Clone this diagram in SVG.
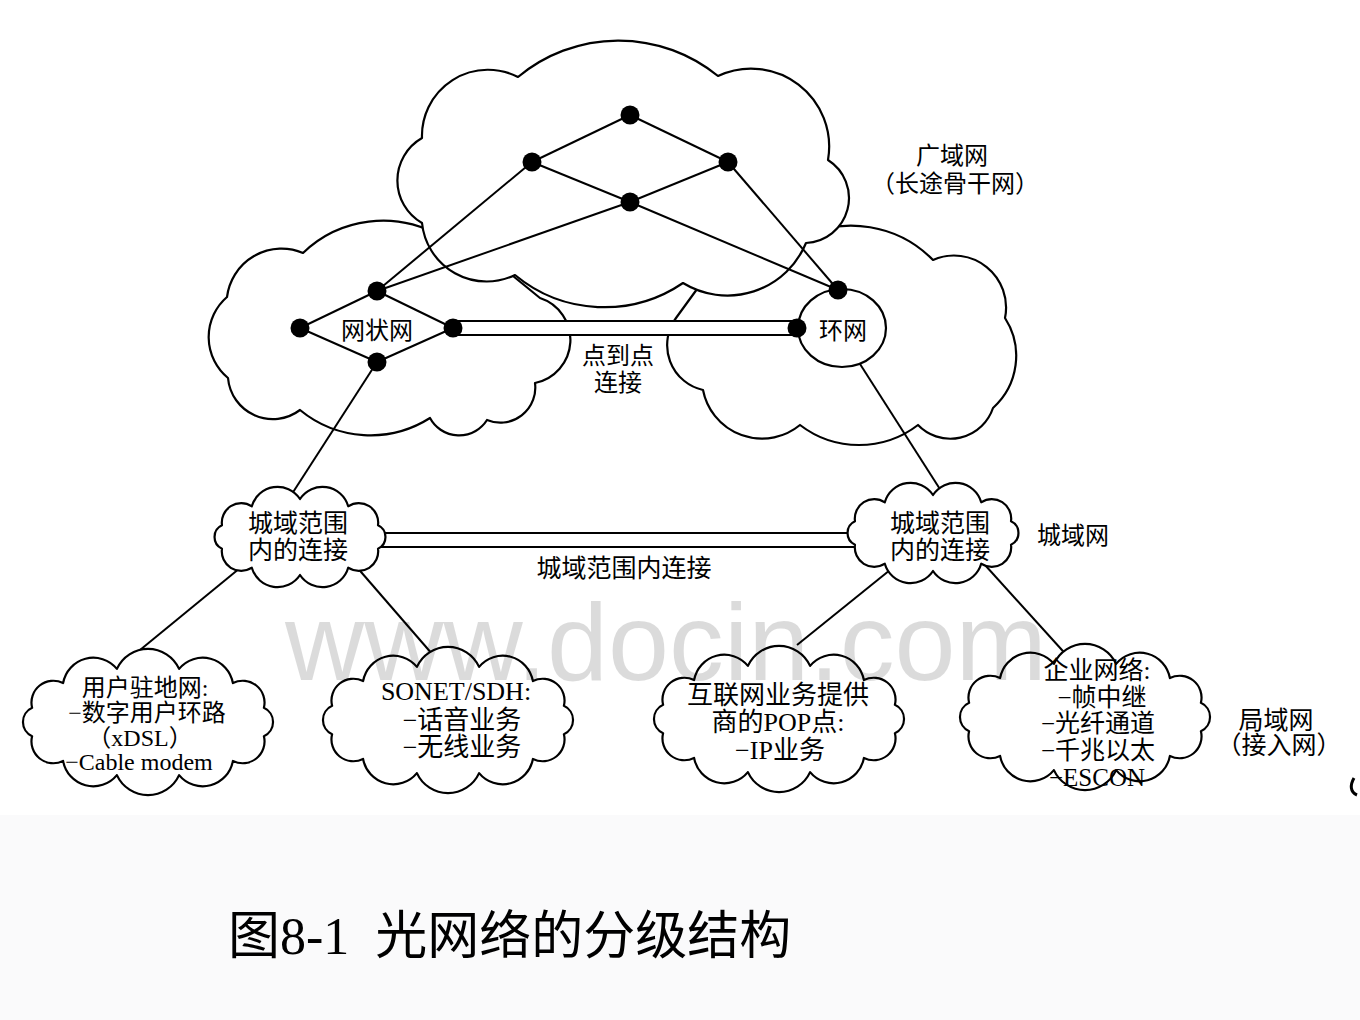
<svg xmlns="http://www.w3.org/2000/svg" width="1360" height="1020" viewBox="0 0 1360 1020">
<defs>
<style>
.cloud{fill:#fff;stroke:#000;stroke-width:2.2;stroke-linejoin:round}
.ln{stroke:#000;stroke-width:2;fill:none}
.ring{fill:none;stroke:#000;stroke-width:2.2}
.dblfill{fill:#fff;stroke:none}
.dot{fill:#000}
text{font-family:"Liberation Serif","Noto Sans CJK SC",serif;fill:#000}
.s24{font-size:24px}
.s25{font-size:25px}
.s26{font-size:26px}
.mid{text-anchor:middle}
.cap{font-size:52px}
.wm{font-family:"Liberation Sans",Arial,sans-serif;font-size:110px;fill:#000;fill-opacity:0.14}
</style>
<path id="cloudS" d="M115.9,14.2 A21.8,21.8 0 0 1 84.9,38.9 A30.6,30.6 0 0 1 31.1,53.1 A34.2,34.2 0 0 1 -31.1,53.1 A30.6,30.6 0 0 1 -84.9,38.9 A21.8,21.8 0 0 1 -115.9,14.2 A15.6,15.6 0 0 1 -115.9,-14.2 A21.8,21.8 0 0 1 -84.9,-38.9 A30.6,30.6 0 0 1 -31.1,-53.1 A34.2,34.2 0 0 1 31.1,-53.1 A30.6,30.6 0 0 1 84.9,-38.9 A21.8,21.8 0 0 1 115.9,-14.2 A15.6,15.6 0 0 1 115.9,14.2 Z"/>
<path id="cloudM" d="M78,11.7 A19.4,19.4 0 0 1 48.2,30.7 A26.8,26.8 0 0 1 0,38 A26.8,26.8 0 0 1 -48.2,30.7 A19.4,19.4 0 0 1 -78,11.7 A12.9,12.9 0 0 1 -78,-11.7 A19.4,19.4 0 0 1 -48.2,-30.7 A26.8,26.8 0 0 1 0,-38 A26.8,26.8 0 0 1 48.2,-30.7 A19.4,19.4 0 0 1 78,-11.7 A12.9,12.9 0 0 1 78,11.7 Z"/>
</defs>

<rect x="0" y="0" width="1360" height="1020" fill="#fff"/>
<rect x="0" y="815" width="1360" height="205" fill="#fafafb"/>

<g id="mesh-network">
<path class="cloud" d="M227,297 A55,55 0 0 1 303,253 A115,115 0 0 1 440,236 L513,276 L540,298 A44,44 0 0 1 535,383 A35,35 0 0 1 487,420 A33,33 0 0 1 430,418 A111,111 0 0 1 300,410 A45,45 0 0 1 228,378 A53,53 0 0 1 227,297 Z"/>
<text class="s24 mid" x="377" y="339">网状网</text>
</g>

<g id="ring-network">
<path class="cloud" d="M800,238 A114,114 0 0 1 933,260 A52,52 0 0 1 1005,318 A70,70 0 0 1 993,408 A45,45 0 0 1 918,425 A97,97 0 0 1 800,425 A60,60 0 0 1 703,390 A46,46 0 0 1 676,318 L700,285 Z"/>
<ellipse class="ring" cx="842" cy="328" rx="44" ry="39"/>
<text class="s24 mid" x="843" y="339">环网</text>
</g>

<g id="wan-backbone">
<path class="cloud" d="M422,223 A49,49 0 0 1 422,138 A66,66 0 0 1 518,77 A157,157 0 0 1 718,76 A78,78 0 0 1 828,160 A45,45 0 0 1 806,243 A85,85 0 0 1 683,283 A140,140 0 0 1 515,275 A65,65 0 0 1 422,223 Z"/>
</g>

<g id="connectors">
<line class="ln" x1="630" y1="115" x2="532" y2="162"/>
<line class="ln" x1="630" y1="115" x2="728" y2="162"/>
<line class="ln" x1="532" y1="162" x2="630" y2="202"/>
<line class="ln" x1="728" y1="162" x2="630" y2="202"/>
<line class="ln" x1="532" y1="162" x2="377" y2="291"/>
<line class="ln" x1="630" y1="202" x2="377" y2="291"/>
<line class="ln" x1="728" y1="162" x2="838" y2="290"/>
<line class="ln" x1="630" y1="202" x2="838" y2="290"/>
<line class="ln" x1="377" y1="291" x2="300" y2="328"/>
<line class="ln" x1="300" y1="328" x2="377" y2="362"/>
<line class="ln" x1="377" y1="362" x2="453" y2="328"/>
<line class="ln" x1="453" y1="328" x2="377" y2="291"/>
<line class="ln" x1="377" y1="362" x2="288" y2="500"/>
<line class="ln" x1="860" y1="364" x2="945" y2="497"/>
<g id="p2p-link">
<rect class="dblfill" x="453" y="321" width="344" height="14"/>
<line class="ln" x1="453" y1="321" x2="797" y2="321"/>
<line class="ln" x1="453" y1="335" x2="797" y2="335"/>
<text class="s24 mid" x="618" y="364">点到点</text>
<text class="s24 mid" x="618" y="391">连接</text>
</g>
<g id="metro-link">
<rect class="dblfill" x="380" y="533" width="475" height="14"/>
<line class="ln" x1="380" y1="533" x2="855" y2="533"/>
<line class="ln" x1="380" y1="547" x2="855" y2="547"/>
<text class="s25 mid" x="624" y="577">城域范围内连接</text>
</g>
<line class="ln" x1="240" y1="568" x2="140" y2="650"/>
<line class="ln" x1="355" y1="565" x2="433" y2="655"/>
<line class="ln" x1="890" y1="570" x2="797" y2="645"/>
<line class="ln" x1="985" y1="565" x2="1071" y2="660"/>
</g>

<g id="wan-nodes">
<circle id="n-top" class="dot" cx="630" cy="115" r="9.5"/>
<circle id="n-left" class="dot" cx="532" cy="162" r="9.5"/>
<circle id="n-right" class="dot" cx="728" cy="162" r="9.5"/>
<circle id="n-center" class="dot" cx="630" cy="202" r="9.5"/>
</g>
<g id="mesh-nodes">
<circle id="m-top" class="dot" cx="377" cy="291" r="9.5"/>
<circle id="m-left" class="dot" cx="300" cy="328" r="9.5"/>
<circle id="m-right" class="dot" cx="453" cy="328" r="9.5"/>
<circle id="m-bottom" class="dot" cx="377" cy="362" r="9.5"/>
</g>
<g id="ring-nodes">
<circle id="r-top" class="dot" cx="838" cy="290" r="9.5"/>
<circle id="r-left" class="dot" cx="797" cy="328" r="9.5"/>
</g>

<g id="metro-left">
<use href="#cloudM" class="cloud" x="300" y="537"/>
<text class="s25 mid" x="298" y="532">城域范围</text>
<text class="s25 mid" x="298" y="559">内的连接</text>
</g>
<g id="metro-right">
<use href="#cloudM" class="cloud" x="933" y="533"/>
<text class="s25 mid" x="940" y="532">城域范围</text>
<text class="s25 mid" x="940" y="559">内的连接</text>
</g>

<g id="customer-premises">
<use href="#cloudS" class="cloud" x="148" y="722"/>
<text class="s24 mid" x="145" y="696">用户驻地网:</text>
<text class="s24 mid" x="147" y="721">−数字用户环路</text>
<text class="s24 mid" x="140" y="746">（xDSL）</text>
<text class="s24 mid" x="139" y="770">−Cable modem</text>
</g>
<g id="sonet-sdh">
<use href="#cloudS" class="cloud" x="448" y="720"/>
<text class="s26 mid" x="456" y="700">SONET/SDH:</text>
<text class="s26 mid" x="462" y="729">−话音业务</text>
<text class="s26 mid" x="462" y="756">−无线业务</text>
</g>
<g id="isp-pop">
<use href="#cloudS" class="cloud" x="779" y="719"/>
<text class="s26 mid" x="778" y="704">互联网业务提供</text>
<text class="s26 mid" x="778" y="731">商的POP点:</text>
<text class="s26 mid" x="780" y="759">−IP业务</text>
</g>
<g id="enterprise">
<use href="#cloudS" class="cloud" x="1085" y="717"/>
<text class="s25 mid" x="1097" y="679">企业网络:</text>
<text class="s25 mid" x="1102" y="706">−帧中继</text>
<text class="s25 mid" x="1098" y="732">−光纤通道</text>
<text class="s25 mid" x="1098" y="759">−千兆以太</text>
<text class="s25 mid" x="1097" y="786">−ESCON</text>
</g>

<g id="tier-labels">
<text class="s24 mid" x="952" y="164">广域网</text>
<text class="s24 mid" x="955" y="192">（长途骨干网）</text>
<text class="s24" x="1037" y="544">城域网</text>
<text class="s25 mid" x="1276" y="729">局域网</text>
<text class="s25 mid" x="1279" y="754">（接入网）</text>
</g>

<path d="M1354,778 C1350,785 1350,792 1357,795" fill="none" stroke="#000" stroke-width="3"/>

<text class="cap" x="228" y="954" xml:space="preserve">图8-1  光网络的分级结构</text>

<text class="wm" x="285" y="680" textLength="762" lengthAdjust="spacingAndGlyphs">www.docin.com</text>
</svg>
